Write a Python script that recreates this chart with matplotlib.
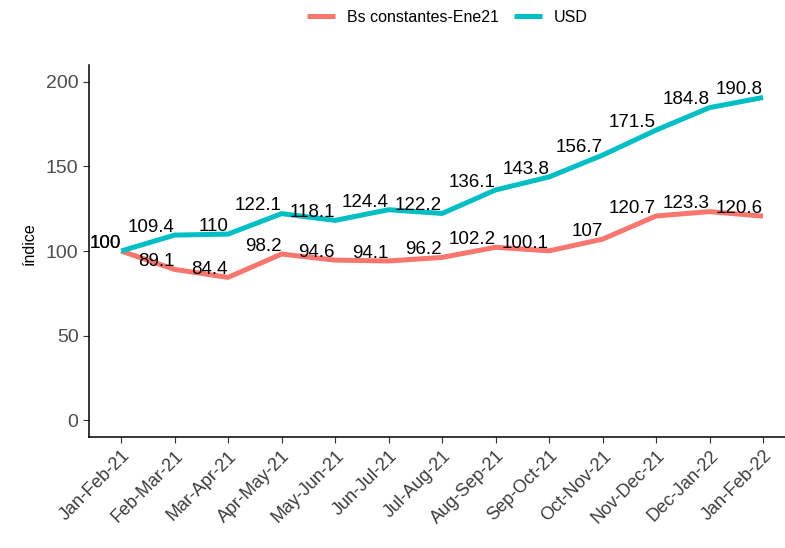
import matplotlib.pyplot as plt
import numpy as np

plt.rcParams['font.family'] = ['Liberation Sans', 'DejaVu Sans']

periods = ['Jan-Feb-21', 'Feb-Mar-21', 'Mar-Apr-21', 'Apr-May-21', 'May-Jun-21',
           'Jun-Jul-21', 'Jul-Aug-21', 'Aug-Sep-21', 'Sep-Oct-21', 'Oct-Nov-21',
           'Nov-Dec-21', 'Dec-Jan-22', 'Jan-Feb-22']
bs_const = [100, 89.1, 84.4, 98.2, 94.6, 94.1, 96.2, 102.2, 100.1, 107, 120.7, 123.3, 120.6]
usd = [100, 109.4, 110, 122.1, 118.1, 124.4, 122.2, 136.1, 143.8, 156.7, 171.5, 184.8, 190.8]

series = [('Bs constantes-Ene21', bs_const, '#F8766D'),
          ('USD', usd, '#00BFC4')]

fig = plt.figure(figsize=(7.85, 5.48), dpi=100)
ax = fig.add_axes([89/785, 1 - 437/548, (785 - 89)/785, (437 - 65)/548])

x = np.arange(len(periods))
for name, vals, col in series:
    ax.plot(x, vals, color=col, lw=3.6, label=name, solid_capstyle='butt')
    for xi, v in zip(x, vals):
        ax.text(xi, v - 0.5, '%g' % v, ha='right', va='bottom', fontsize=13.5, color='black')

ax.set_xlim(-0.6, 12.41)
ax.set_ylim(-10, 210)
ax.set_yticks([0, 50, 100, 150, 200])
ax.set_xticks(x)
ax.set_xticklabels(periods, rotation=45, ha='right', rotation_mode='anchor')
ax.tick_params(axis='both', colors='#333333', labelcolor='#4d4d4d', labelsize=14, length=4)
ax.tick_params(axis='x', labelsize=13, labelcolor='#3d3d3d')
for s in ['top', 'right']:
    ax.spines[s].set_visible(False)
for s in ['left', 'bottom']:
    ax.spines[s].set_linewidth(1.1)
ax.set_ylabel('índice', fontsize=11.5, color='black')
ax.yaxis.set_label_coords(-0.075, 0.52)

fig.legend(loc='center', bbox_to_anchor=(0.57, 1 - 17/548), ncol=2, frameon=False,
           fontsize=11.5, handlelength=1.75, handletextpad=0.75, columnspacing=0.9)

fig.savefig('out.png', dpi=100)
